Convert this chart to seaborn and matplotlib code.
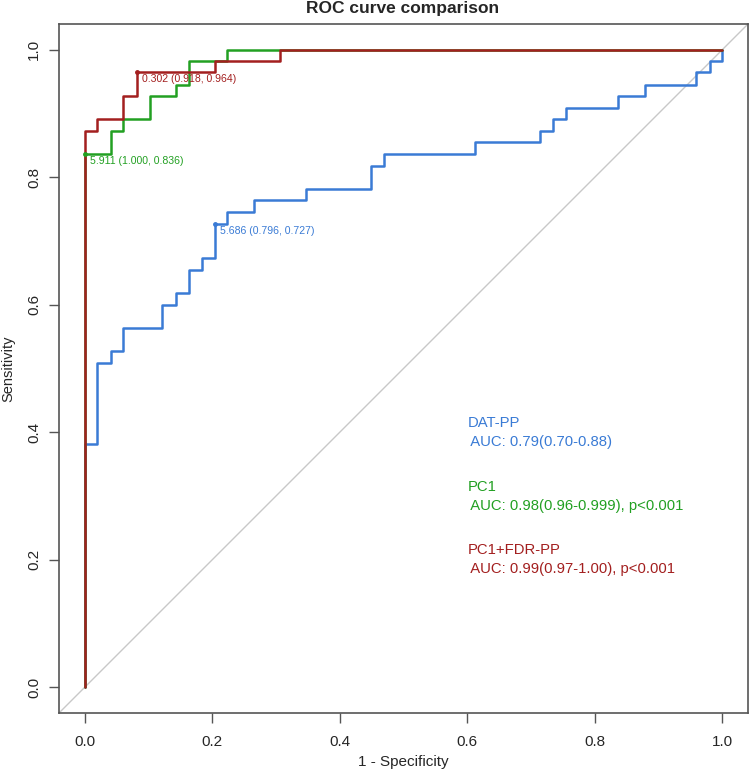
import matplotlib
matplotlib.use("Agg")
import matplotlib.pyplot as plt
import seaborn as sns
import pandas as pd

# ROC coordinates (1 - specificity, sensitivity); curve rises at each x
dat_fpr = [0.0, 0.0, 0.020, 0.041, 0.061, 0.122, 0.143, 0.163, 0.184, 0.204, 0.224,
           0.265, 0.347, 0.449, 0.469, 0.612, 0.714, 0.735, 0.755, 0.837, 0.878,
           0.959, 0.980, 1.0]
dat_tpr = [0.0, 0.382, 0.509, 0.527, 0.564, 0.600, 0.618, 0.655, 0.673, 0.727, 0.745,
           0.764, 0.782, 0.818, 0.836, 0.855, 0.873, 0.891, 0.909, 0.927, 0.945,
           0.964, 0.982, 1.0]
pc1_fpr = [0.0, 0.0, 0.041, 0.061, 0.102, 0.143, 0.163, 0.224, 1.0]
pc1_tpr = [0.0, 0.836, 0.873, 0.891, 0.927, 0.945, 0.982, 1.0, 1.0]
comb_fpr = [0.0, 0.0, 0.020, 0.061, 0.082, 0.204, 0.306, 1.0]
comb_tpr = [0.0, 0.873, 0.891, 0.927, 0.964, 0.982, 1.0, 1.0]

series_names = ["DAT-PP", "PC1", "PC1+FDR-PP"]
auc_texts = [" AUC: 0.79(0.70-0.88)",
             " AUC: 0.98(0.96-0.999), p<0.001",
             " AUC: 0.99(0.97-1.00), p<0.001"]
best_fpr = [0.204, 0.0, 0.082]
best_tpr = [0.727, 0.836, 0.964]
best_labels = ["5.686 (0.796, 0.727)", "5.911 (1.000, 0.836)", "0.302 (0.918, 0.964)"]
legend_y = [0.4, 0.3, 0.2]
x_ticks = [0.0, 0.2, 0.4, 0.6, 0.8, 1.0]

colors = ["#3A7BD5", "#22A022", "#A31F1F"]

sns.set_style("white")
plt.rcParams["font.family"] = ["Liberation Sans", "DejaVu Sans"]

fig = plt.figure(figsize=(7.49, 7.76), dpi=100)
ax = fig.add_axes([59 / 749, 63 / 776, 689 / 749, 689 / 776])

ax.axline((0, 0), (1, 1), color="#C8C8C8", lw=1.0, zorder=1)

frames = []
for name, fx, ty in zip(series_names, [dat_fpr, pc1_fpr, comb_fpr], [dat_tpr, pc1_tpr, comb_tpr]):
    frames.append(pd.DataFrame({"fpr": fx, "tpr": ty, "model": name}))
df = pd.concat(frames, ignore_index=True)

for name, col in zip(series_names, colors):
    sub = df[df["model"] == name]
    sns.lineplot(data=sub, x="fpr", y="tpr", color=col, lw=1.8, estimator=None,
                 drawstyle="steps-post", ax=ax, zorder=3)

for bx, by, lab, col in zip(best_fpr, best_tpr, best_labels, colors):
    ax.plot([bx], [by], "o", color=col, ms=2.5, zorder=4)
    ax.annotate(lab, (bx, by), xytext=(4, -5), textcoords="offset points",
                fontsize=7.6, color=col, ha="left", va="center")

for name, auc, ly, col in zip(series_names, auc_texts, legend_y, colors):
    ax.text(0.6, ly, name + "\n" + auc, color=col, fontsize=10.7, ha="left",
            va="center", linespacing=1.45)

ax.set_xlim(-0.04, 1.04)
ax.set_ylim(-0.04, 1.04)
ax.set_xticks(x_ticks)
ax.set_yticks(x_ticks)
ax.set_xticklabels([f"{t:.1f}" for t in x_ticks], fontsize=11)
ax.set_yticklabels([f"{t:.1f}" for t in x_ticks], fontsize=11, rotation=90, va="center")
ax.tick_params(axis="x", direction="out", length=7, width=1, color="#555555",
               bottom=True, pad=9)
ax.tick_params(axis="y", direction="out", length=7, width=1, color="#555555",
               left=True, pad=6)
ax.set_xlabel("1 - Specificity", fontsize=11, labelpad=4)
ax.set_ylabel("Sensitivity", fontsize=10.5, labelpad=8)
for s in ax.spines.values():
    s.set_color("#555555")
    s.set_linewidth(1.2)

fig.text(403 / 749, 1 - 13 / 776, "ROC curve comparison", fontsize=12.5,
         fontweight="bold", ha="center", va="baseline")

fig.savefig("out.png", dpi=100)
